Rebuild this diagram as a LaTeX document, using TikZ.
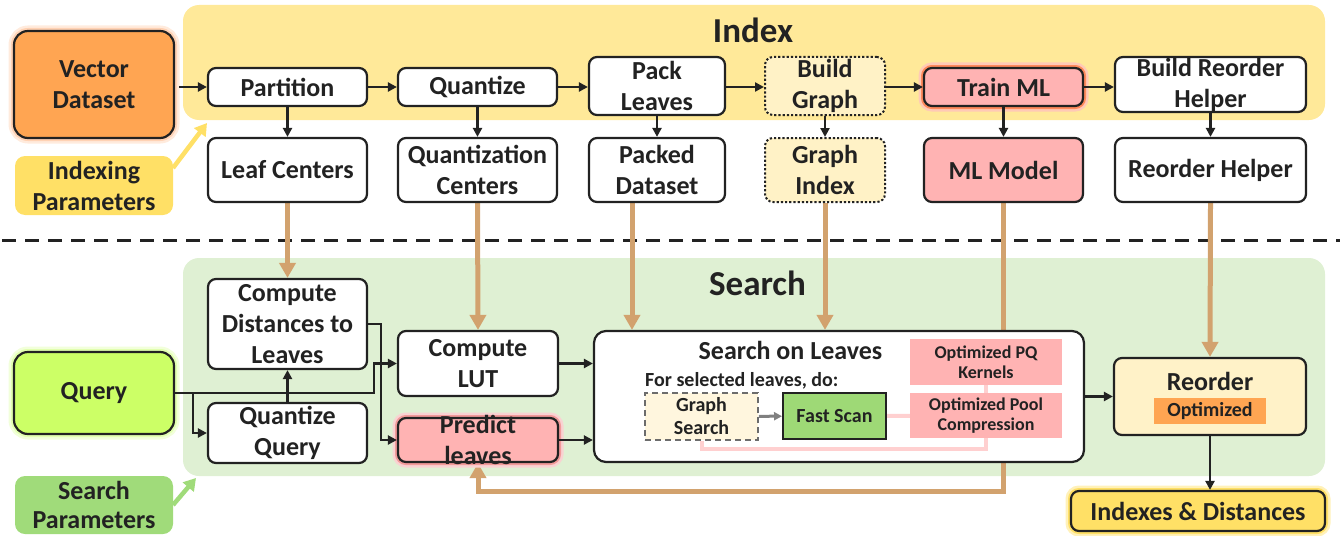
\documentclass[tikz,border=0pt]{standalone}
\usepackage{fontspec}
\setmainfont{Carlito}
\usepackage{tikz}
\usetikzlibrary{arrows.meta}

\definecolor{ink}{HTML}{222222}
\definecolor{indexbg}{HTML}{FFE999}
\definecolor{searchbg}{HTML}{DFF0D3}
\definecolor{vecorange}{HTML}{FFA552}
\definecolor{idxparam}{HTML}{FFE066}
\definecolor{srchparam}{HTML}{A0DB7A}
\definecolor{graphfill}{HTML}{FFF2C6}
\definecolor{mlpink}{HTML}{FFB3B3}
\definecolor{lime}{HTML}{CCFF66}
\definecolor{tan}{HTML}{D2A26E}
\definecolor{cream}{HTML}{FFF2C8}
\definecolor{fastgreen}{HTML}{9ED976}
\definecolor{gsfill}{HTML}{FFF6DE}
\definecolor{pinkline}{HTML}{FFD0D0}
\definecolor{glowred}{HTML}{FF8A5C}
\definecolor{glowvec}{HTML}{FFD2B4}
\definecolor{glowlime}{HTML}{E2FFB0}
\definecolor{glowpink}{HTML}{F29A9A}

\newcommand{\boxfont}{\bfseries\fontsize{26}{31}\selectfont}
\newcommand{\smallfont}{\bfseries\fontsize{20}{23}\selectfont}
\newcommand{\tinyfont}{\bfseries\fontsize{18}{20}\selectfont}
\newcommand{\headfont}{\bfseries\fontsize{35}{40}\selectfont}

\pgfdeclarelayer{bg}
\pgfdeclarelayer{mid}
\pgfsetlayers{bg,mid,main}

\begin{document}
\begin{tikzpicture}[x=1pt, y=-1pt,
  box/.style={draw=ink, line width=2.2pt, rounded corners=8pt, fill=white, align=center, inner sep=0pt, font=\boxfont, text=ink},
  dotbox/.style={box, fill=graphfill, dotted, line width=2pt},
  mlbox/.style={box, fill=mlpink},
  optbox/.style={fill=mlpink, align=center, inner sep=0pt, font=\tinyfont, text=ink, minimum width=152pt},
  panel/.style={rounded corners=16pt, inner sep=0pt, minimum width=1142pt},
  param/.style={rounded corners=10pt, align=center, inner sep=0pt, font=\boxfont, text=ink, minimum width=158pt},
  title/.style={font=\headfont, text=ink, inner sep=0pt, anchor=base},
  boxlabel/.style={align=center, inner sep=0pt, font=\boxfont, text=ink},
  glow/.style={preaction={draw=#1!45, line width=11pt}, preaction={draw=#1, line width=6pt}},
  arrow/.style={-{Triangle[length=9pt,width=9pt]}, line width=2.4pt, draw=ink},
  feed/.style={-{Triangle[length=15pt,width=16pt]}, line width=5pt, draw=tan},
  link/.style={line width=4pt, draw=pinkline},
  hint/.style={-{Triangle[length=12pt,width=14pt]}, line width=4.5pt, draw=#1}
]
\useasboundingbox (0,0) rectangle (1340,535);

\begin{pgfonlayer}{bg}
\node[panel, fill=indexbg, minimum height=115pt] (indexbg) at (754,62.5) {};
\node[panel, fill=searchbg, minimum height=218pt] (searchbg) at (754,367) {};
\draw[ink, line width=3pt, dash pattern=on 14pt off 9pt] (2,240) -- (1340,240);
\end{pgfonlayer}

\node[title] (indextitle) at (753,43) {Index};
\node[title] (searchtitle) at (757.5,295) {Search};

% index side
\node[box, fill=vecorange, glow=glowvec, rounded corners=14pt, minimum width=160pt, minimum height=107pt] (vector) at (94,84.5) {Vector\\Dataset};
\node[param, fill=idxparam, minimum height=59pt] (ixparam) at (94,185.5) {Indexing\\Parameters};

\node[box, minimum width=159pt, minimum height=38pt] (partition) at (287.5,87) {Partition};
\node[box, minimum width=159pt, minimum height=38pt] (quantize) at (477.5,87) {Quantize};
\node[box, minimum width=136pt, minimum height=58pt] (pack) at (657,86) {Pack\\Leaves};
\node[dotbox, minimum width=120pt, minimum height=58pt] (buildgraph) at (825,86) {Build\\Graph};
\node[mlbox, glow=glowred, minimum width=159pt, minimum height=38pt] (trainml) at (1003.5,87) {Train ML};
\node[box, minimum width=191pt, minimum height=55pt] (buildreorder) at (1210.5,84.5) {Build Reorder\\Helper};

\node[box, minimum width=159pt, minimum height=64pt] (leafc) at (287.5,170) {Leaf Centers};
\node[box, minimum width=159pt, minimum height=64pt] (qcenters) at (477.5,170) {Quantization\\Centers};
\node[box, minimum width=136pt, minimum height=64pt] (packed) at (657,170) {Packed\\Dataset};
\node[dotbox, minimum width=120pt, minimum height=64pt] (graphidx) at (825,170) {Graph\\Index};
\node[mlbox, minimum width=159pt, minimum height=64pt] (mlmodel) at (1003.5,170) {ML Model};
\node[box, minimum width=191pt, minimum height=64pt] (reohelper) at (1210.5,170) {Reorder Helper};

% search side
\node[box, fill=lime, glow=glowlime, rounded corners=14pt, minimum width=160pt, minimum height=82pt] (query) at (94,393) {Query};
\node[param, fill=srchparam, minimum height=58pt, font=\bfseries\fontsize{26}{29}\selectfont] (srparam) at (94,505) {Search\\Parameters};

\node[box, minimum width=159pt, minimum height=90pt] (cdist) at (287.5,324) {Compute\\Distances to\\Leaves};
\node[box, minimum width=159pt, minimum height=60pt] (qquery) at (287.5,433) {Quantize\\Query};
\node[box, minimum width=160pt, minimum height=65pt] (clut) at (478,363.5) {Compute\\LUT};
\node[mlbox, glow=glowpink, minimum width=160pt, minimum height=44pt,
  label={[boxlabel]center:Predict\\leaves}] (predict) at (478,440) {};

\node[box, rounded corners=12pt, minimum width=490pt, minimum height=131pt] (sol) at (839,396.5) {};
\node[title, font=\boxfont] (soltitle) at (790.5,359) {Search on Leaves};
\node[font=\smallfont, text=ink, inner sep=0pt, anchor=base west] (forsel) at (645,386) {For selected leaves, do:};
\node[draw=gray!85!black, dash pattern=on 6pt off 4pt, line width=1.8pt, fill=gsfill, align=center, inner sep=0pt, font=\smallfont, text=ink,
  minimum width=113pt, minimum height=47pt] (gsearch) at (701.5,416.5) {Graph\\Search};
\node[draw=ink, line width=2pt, fill=fastgreen, inner sep=0pt, font=\smallfont, text=ink,
  minimum width=103pt, minimum height=46pt] (fastscan) at (834.5,416) {Fast Scan};
\node[optbox, minimum height=46pt] (optpq) at (986,362) {Optimized PQ\\Kernels};
\node[optbox, minimum height=45pt] (optpool) at (986,415.5) {Optimized Pool\\Compression};

\node[box, fill=cream, minimum width=192pt, text height=32pt, text depth=45pt] (reorder) at (1210,396.5) {Reorder};
\node[fill=vecorange, inner sep=0pt, font=\smallfont, text=ink, minimum width=112pt, minimum height=26pt] (optim) at (1210,411) {Optimized};
\node[box, fill=idxparam, glow=idxparam, minimum width=254pt, minimum height=40pt] (idx) at (1198,511) {Indexes \& Distances};

% feeds from index to search
\begin{pgfonlayer}{mid}
\draw[feed] (leafc.south) -- (cdist.north);
\draw[feed] (qcenters.south) -- (clut.north);
\draw[feed] ([xshift=-25pt]packed.south) -- ([xshift=-25pt]packed.south |- sol.north);
\draw[feed] (graphidx.south) -- (graphidx.south |- sol.north);
\draw[feed] (mlmodel.south) -- ++(0,288) -| (predict.south);
\draw[feed] (reohelper.south) -- (reorder.north);
\end{pgfonlayer}

\coordinate (ixcorner) at (207,123);
\coordinate (srcorner) at (196,478);
\draw[hint=idxparam] (173,168) -- (ixcorner);
\draw[hint=srchparam] (173,505) -- (srcorner);

\draw[arrow] ([xshift=4pt]vector.east |- partition) -- (partition);
\draw[arrow] (partition) -- (quantize);
\draw[arrow] (quantize) -- (quantize -| pack.west);
\draw[arrow] (pack.east |- quantize) -- (quantize -| buildgraph.west);
\draw[arrow] (buildgraph.east |- trainml) -- (trainml);
\draw[arrow] (trainml) -- (trainml -| buildreorder.west);
\draw[arrow] (partition) -- (leafc);
\draw[arrow] (quantize) -- (qcenters);
\draw[arrow] (pack) -- (packed);
\draw[arrow] (buildgraph) -- (graphidx);
\draw[arrow] (trainml) -- (mlmodel);
\draw[arrow] (buildreorder) -- (reohelper);

\draw[arrow] (query.east) -| ([xshift=-23pt]clut.west) -- (clut.west);
\draw[arrow] ([xshift=18pt]query.east) |- (qquery.west);
\draw[arrow] (qquery) -- (cdist);
\draw[arrow] (cdist.east) -| ([xshift=-16pt]predict.west) -- (predict.west);
\draw[arrow] (clut.east) -- (clut.east -| sol.west);
\draw[arrow] (predict.east) -- (predict.east -| sol.west);
\draw[arrow] (sol.east |- reorder) -- (reorder);
\draw[arrow] (reorder.south) -- (reorder.south |- idx.north);

\draw[-{Triangle[length=8pt,width=8pt]}, line width=3pt, draw=gray] (gsearch) -- (fastscan);
\draw[link] (fastscan) -- (optpool);
\draw[link] (optpq) -- (optpool);
\draw[link] (optpool.south) -- ++(0,11) -| (gsearch.south);
\end{tikzpicture}
\end{document}
